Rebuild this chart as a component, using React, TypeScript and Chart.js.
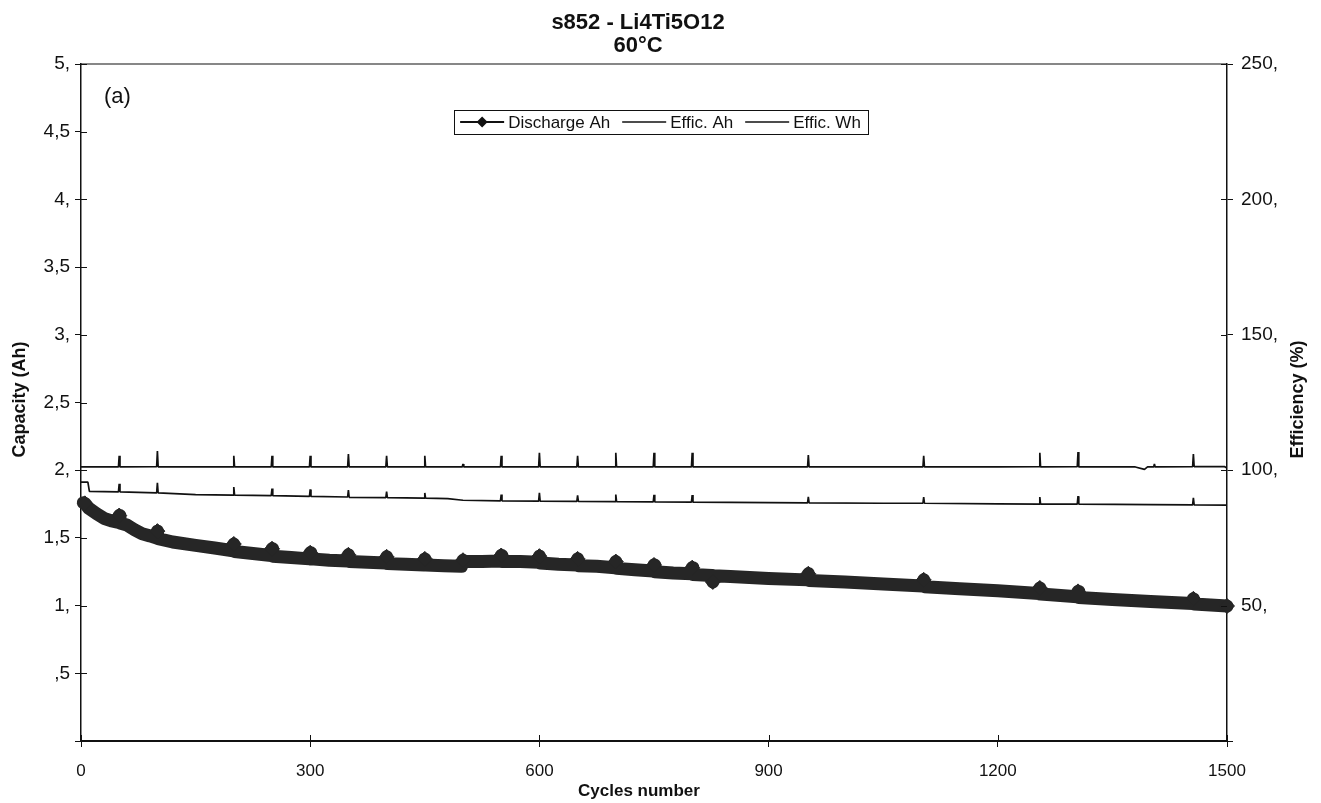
import React, { useEffect, useRef } from "react";
import { Chart, registerables } from "chart.js";

Chart.register(...registerables);

// ---------- text ----------
const TITLE_LINES = ["s852 - Li4Ti5O12", "60°C"];
const PANEL_LABEL = "(a)";
const X_TITLE = "Cycles number";
const Y_LEFT_TITLE = "Capacity (Ah)";
const Y_RIGHT_TITLE = "Efficiency (%)";
const SERIES_NAMES = ["Discharge Ah", "Effic. Ah", "Effic. Wh"];

// ---------- ticks ----------
const X_TICKS = [0, 300, 600, 900, 1200, 1500];
const CAP_TICKS = [0, 0.5, 1, 1.5, 2, 2.5, 3, 3.5, 4, 4.5, 5];
const EFF_TICKS = [0, 50, 100, 150, 200, 250];

// ---------- data: [cycle, value] ----------
const DISCHARGE_AH: [number, number][] = [
  [3, 1.76], [5, 1.755], [10, 1.72], [20, 1.68], [30, 1.645], [40, 1.625],
  [49, 1.615], [50, 1.665], [51, 1.61], [60, 1.595], [70, 1.56], [80, 1.53],
  [90, 1.515], [99, 1.5], [100, 1.55], [101, 1.495], [120, 1.47], [150, 1.445],
  [175, 1.425], [199, 1.405], [200, 1.455], [201, 1.4], [225, 1.385], [249, 1.37],
  [250, 1.42], [251, 1.365], [275, 1.355], [299, 1.345], [300, 1.39], [301, 1.345],
  [325, 1.335], [349, 1.33], [350, 1.375], [351, 1.325], [375, 1.32], [399, 1.315],
  [400, 1.36], [401, 1.31], [425, 1.305], [449, 1.3], [450, 1.345], [451, 1.3],
  [475, 1.295], [498, 1.29], [500, 1.335], [502, 1.325], [525, 1.325], [549, 1.33],
  [550, 1.37], [551, 1.325], [575, 1.325], [599, 1.32], [600, 1.365], [601, 1.315],
  [625, 1.305], [649, 1.3], [650, 1.345], [651, 1.295], [675, 1.29], [699, 1.28],
  [700, 1.325], [701, 1.275], [725, 1.265], [749, 1.255], [750, 1.3], [751, 1.25],
  [775, 1.24], [799, 1.235], [800, 1.28], [801, 1.23], [826, 1.222], [827, 1.175],
  [828, 1.22], [850, 1.215], [900, 1.2], [951, 1.19], [952, 1.235], [953, 1.185],
  [1000, 1.175], [1050, 1.16], [1102, 1.145], [1103, 1.19], [1104, 1.14], [1150, 1.125],
  [1200, 1.11], [1254, 1.09], [1255, 1.13], [1256, 1.085], [1304, 1.065], [1305, 1.105],
  [1306, 1.06], [1350, 1.045], [1400, 1.03], [1455, 1.015], [1456, 1.05], [1457, 1.012],
  [1500, 0.997],
];

// cycles whose diamond markers stand out of the band
const DISCHARGE_MARKERS = [5, 50, 100, 200, 250, 300, 350, 400, 450, 500, 550, 600, 650,
  700, 750, 800, 827, 952, 1103, 1255, 1305, 1456, 1500];

const EFFIC_AH: [number, number][] = [
  [0, 101.2], [49, 101.2], [50, 105.3], [51, 101.2], [99, 101.3], [100, 107.1], [101, 101.2],
  [150, 101.2], [199, 101.2], [200, 105.3], [201, 101.2], [249, 101.2], [250, 105.3], [251, 101.2],
  [299, 101.2], [300, 105.3], [301, 101.2], [349, 101.2], [350, 106.0], [351, 101.2],
  [399, 101.2], [400, 105.3], [401, 101.2], [449, 101.2], [450, 105.3], [451, 101.2],
  [499, 101.2], [500, 102.3], [501, 101.2], [549, 101.2], [550, 105.3], [551, 101.2],
  [599, 101.2], [600, 106.4], [601, 101.2], [649, 101.2], [650, 105.3], [651, 101.2],
  [699, 101.2], [700, 106.4], [701, 101.2], [749, 101.2], [750, 106.4], [751, 101.2],
  [799, 101.2], [800, 106.4], [801, 101.2], [900, 101.2], [951, 101.2], [952, 105.6], [953, 101.2],
  [1102, 101.2], [1103, 105.3], [1104, 101.2], [1200, 101.2], [1254, 101.3], [1255, 106.4],
  [1256, 101.2], [1304, 101.3], [1305, 106.7], [1306, 101.2], [1380, 101.2], [1392, 100.3],
  [1396, 101.2], [1404, 101.2], [1405, 102.3], [1406, 101.2], [1455, 101.3], [1456, 106.0],
  [1457, 101.3], [1497, 101.3], [1500, 100.8],
];

const EFFIC_WH: [number, number][] = [
  [0, 95.6], [9, 95.6], [11, 92.2], [49, 92.0], [50, 95.0], [51, 92.0], [99, 91.6], [100, 95.3],
  [101, 91.6], [150, 91.0], [199, 90.8], [200, 93.8], [201, 90.8], [249, 90.6], [250, 93.2],
  [251, 90.6], [299, 90.3], [300, 92.9], [301, 90.3], [349, 90.1], [350, 92.7], [351, 90.0],
  [399, 89.9], [400, 92.1], [401, 89.9], [449, 89.7], [450, 91.6], [451, 89.7], [480, 89.5],
  [500, 88.9], [549, 88.7], [550, 91.0], [551, 88.7], [599, 88.6], [600, 91.6], [601, 88.6],
  [649, 88.5], [650, 90.7], [651, 88.5], [699, 88.4], [700, 91.0], [701, 88.4], [749, 88.3],
  [750, 90.9], [751, 88.3], [799, 88.2], [800, 90.8], [801, 88.2], [900, 88.0], [951, 87.9],
  [952, 90.2], [953, 87.9], [1050, 87.8], [1102, 87.8], [1103, 90.1], [1104, 87.8],
  [1200, 87.6], [1254, 87.5], [1255, 90.1], [1256, 87.5], [1304, 87.5], [1305, 90.4],
  [1306, 87.5], [1400, 87.3], [1455, 87.2], [1456, 89.8], [1457, 87.2], [1500, 87.1],
];

// ---------- styles ----------
const FONT = "'Liberation Sans', Arial, Helvetica, sans-serif";
const INK = "#111111";
const BAND = "#262626";

const toXY = (arr: [number, number][]) => arr.map(([x, y]) => ({ x, y }));

const capLabel = (v: number) => {
  if (v === 0) return "";
  if (Number.isInteger(v)) return `${v},`;
  const s = String(v).replace(".", ",");
  return s.startsWith("0") ? s.slice(1) : s;
};
const effLabel = (v: number) => (v === 0 ? "" : `${v},`);

const decorPlugin = {
  id: "decor",
  afterDraw(chart: any) {
    const { ctx, chartArea: ca, scales } = chart;
    ctx.save();
    ctx.strokeStyle = INK;
    // top frame
    ctx.lineWidth = 1.2;
    ctx.beginPath();
    ctx.moveTo(ca.left, ca.top);
    ctx.lineTo(ca.right, ca.top);
    ctx.stroke();
    // inner halves of the crossing ticks
    const tl = 6;
    ctx.lineWidth = 1;
    ctx.beginPath();
    scales.x.ticks.forEach((t: any) => {
      const p = Math.round(scales.x.getPixelForValue(t.value)) + 0.5;
      ctx.moveTo(p, ca.bottom);
      ctx.lineTo(p, ca.bottom - tl);
    });
    scales.y.ticks.forEach((t: any) => {
      const p = Math.round(scales.y.getPixelForValue(t.value)) + 0.5;
      ctx.moveTo(ca.left, p);
      ctx.lineTo(ca.left + tl, p);
    });
    scales.y1.ticks.forEach((t: any) => {
      const p = Math.round(scales.y1.getPixelForValue(t.value)) + 0.5;
      ctx.moveTo(ca.right, p);
      ctx.lineTo(ca.right - tl, p);
    });
    ctx.stroke();

    ctx.fillStyle = INK;
    // chart title
    const tcx = (ca.left + ca.right) / 2 - 16;
    ctx.font = `bold 22px ${FONT}`;
    ctx.textAlign = "center";
    ctx.textBaseline = "middle";
    ctx.fillText(TITLE_LINES[0], tcx, 22.5);
    ctx.fillText(TITLE_LINES[1], tcx, 46);

    // x title
    ctx.font = `bold 17px ${FONT}`;
    ctx.fillText(X_TITLE, (ca.left + ca.right) / 2 - 15, 791);

    // y titles (both read bottom to top)
    const ymid = (ca.top + ca.bottom) / 2 - 3;
    ctx.font = `bold 18px ${FONT}`;
    ctx.save();
    ctx.translate(20, ymid);
    ctx.rotate(-Math.PI / 2);
    ctx.fillText(Y_LEFT_TITLE, 0, 0);
    ctx.restore();
    ctx.save();
    ctx.translate(1298, ymid);
    ctx.rotate(-Math.PI / 2);
    ctx.fillText(Y_RIGHT_TITLE, 0, 0);
    ctx.restore();

    // panel label
    ctx.font = `22px ${FONT}`;
    ctx.textAlign = "left";
    ctx.fillText(PANEL_LABEL, ca.left + 23, ca.top + 33);

    // legend box
    ctx.font = `17px ${FONT}`;
    const padL = 6, padR = 7, lineLen = 44, gapText = 4, gapItem = 12;
    const widths = SERIES_NAMES.map((s) => ctx.measureText(s).width);
    const W = padL + padR + widths.reduce((a, w) => a + lineLen + gapText + w, 0) + gapItem * (SERIES_NAMES.length - 1);
    const H = 24;
    const lx = (ca.left + ca.right) / 2 + 7 - W / 2;
    const ly = ca.top + 46;
    ctx.fillStyle = "#fff";
    ctx.fillRect(lx, ly, W, H);
    ctx.lineWidth = 1;
    ctx.strokeStyle = INK;
    ctx.strokeRect(Math.round(lx) + 0.5, Math.round(ly) + 0.5, Math.round(W), H);
    ctx.fillStyle = INK;
    const cy = ly + H / 2;
    let x = lx + padL;
    SERIES_NAMES.forEach((name, i) => {
      ctx.lineWidth = i === 0 ? 2 : 1.6;
      ctx.beginPath();
      ctx.moveTo(x, cy);
      ctx.lineTo(x + lineLen, cy);
      ctx.stroke();
      if (i === 0) {
        const mx = x + lineLen / 2, r = 5.5;
        ctx.beginPath();
        ctx.moveTo(mx, cy - r);
        ctx.lineTo(mx + r, cy);
        ctx.lineTo(mx, cy + r);
        ctx.lineTo(mx - r, cy);
        ctx.closePath();
        ctx.fill();
      }
      x += lineLen + gapText;
      ctx.textAlign = "left";
      ctx.textBaseline = "middle";
      ctx.fillText(name, x, cy + 1);
      x += widths[i] + gapItem;
    });
    ctx.restore();
  },
};

export default function App() {
  const ref = useRef<HTMLCanvasElement>(null);

  useEffect(() => {
    const canvas = ref.current;
    if (!canvas) return;
    const chart = new Chart(canvas, {
      type: "line",
      data: {
        datasets: [
          {
            label: SERIES_NAMES[0],
            data: toXY(DISCHARGE_AH),
            yAxisID: "y",
            borderColor: BAND,
            backgroundColor: BAND,
            borderWidth: 13,
            borderJoinStyle: "round",
            borderCapStyle: "round",
            pointStyle: "rectRot",
            pointRadius: (c: any) => (c.raw && DISCHARGE_MARKERS.includes(c.raw.x) ? 7.5 : 0),
            pointBackgroundColor: BAND,
            pointBorderColor: BAND,
            pointBorderWidth: 1,
            tension: 0,
            clip: false as any,
            order: 3,
          } as any,
          {
            label: SERIES_NAMES[1],
            data: toXY(EFFIC_AH),
            yAxisID: "y1",
            borderColor: INK,
            borderWidth: 1.7,
            borderJoinStyle: "bevel",
            pointRadius: 0,
            tension: 0,
            order: 1,
          },
          {
            label: SERIES_NAMES[2],
            data: toXY(EFFIC_WH),
            yAxisID: "y1",
            borderColor: INK,
            borderWidth: 1.7,
            borderJoinStyle: "bevel",
            pointRadius: 0,
            tension: 0,
            order: 2,
          },
        ],
      },
      options: {
        responsive: false,
        devicePixelRatio: 1,
        animation: false,
        events: [],
        layout: { padding: { top: 64, left: 0, right: 0, bottom: 0 } },
        plugins: {
          legend: { display: false },
          title: { display: false },
          tooltip: { enabled: false },
        },
        scales: {
          x: {
            type: "linear",
            min: 0,
            max: 1500,
            afterBuildTicks: (s: any) => {
              s.ticks = X_TICKS.map((v) => ({ value: v }));
            },
            afterFit: (s: any) => {
              s.height = 62;
            },
            ticks: {
              callback: (v: any) => String(v),
              font: { family: FONT, size: 17 },
              color: INK,
              padding: 14,
              maxRotation: 0,
              autoSkip: false,
            },
            grid: { display: true, drawOnChartArea: false, drawTicks: true, tickLength: 6, color: INK, lineWidth: 1 },
            border: { display: true, color: INK, width: 2 },
          },
          y: {
            type: "linear",
            position: "left",
            min: 0,
            max: 5,
            afterBuildTicks: (s: any) => {
              s.ticks = CAP_TICKS.map((v) => ({ value: v }));
            },
            afterFit: (s: any) => {
              s.width = 81;
            },
            ticks: {
              callback: (v: any) => capLabel(Number(v)),
              font: { family: FONT, size: 19 },
              color: INK,
              padding: 5,
              autoSkip: false,
            },
            grid: { display: true, drawOnChartArea: false, drawTicks: true, tickLength: 6, color: INK, lineWidth: 1 },
            border: { display: true, color: INK, width: 1.5 },
          },
          y1: {
            type: "linear",
            position: "right",
            min: 0,
            max: 250,
            afterBuildTicks: (s: any) => {
              s.ticks = EFF_TICKS.map((v) => ({ value: v }));
            },
            afterFit: (s: any) => {
              s.width = 94;
            },
            ticks: {
              callback: (v: any) => effLabel(Number(v)),
              font: { family: FONT, size: 19 },
              color: INK,
              padding: 8,
              autoSkip: false,
            },
            grid: { display: true, drawOnChartArea: false, drawTicks: true, tickLength: 6, color: INK, lineWidth: 1 },
            border: { display: true, color: INK, width: 1.5 },
          },
        },
      } as any,
      plugins: [decorPlugin],
    });
    return () => chart.destroy();
  }, []);

  return (
    <div style={{ position: "fixed", left: 0, top: 0, width: 1321, height: 803, background: "#fff" }}>
      <canvas ref={ref} width={1321} height={803} style={{ display: "block", width: 1321, height: 803 }} />
    </div>
  );
}
